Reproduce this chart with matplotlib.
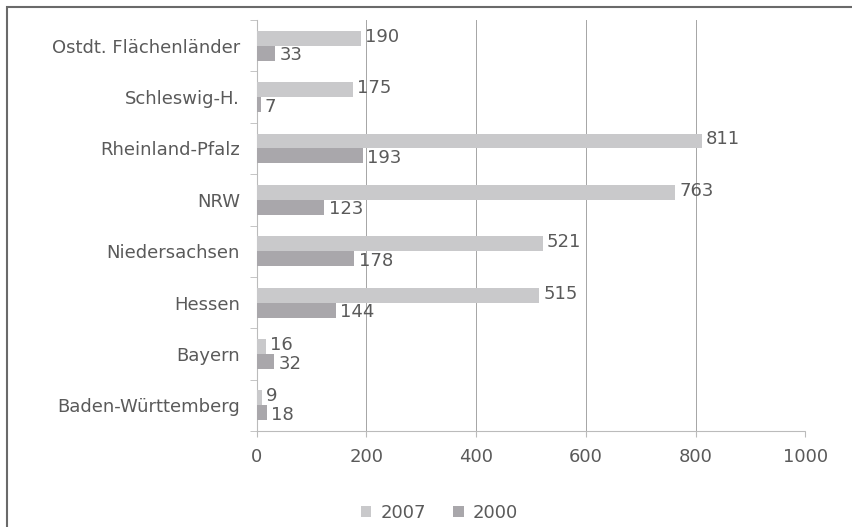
import matplotlib
matplotlib.use("Agg")
import matplotlib.pyplot as plt
from matplotlib.patches import Rectangle
import numpy as np

plt.rcParams['font.family'] = ['DejaVu Sans']

categories = ["Baden-Württemberg", "Bayern", "Hessen", "Niedersachsen",
              "NRW", "Rheinland-Pfalz", "Schleswig-H.", "Ostdt. Flächenländer"]
values_2007 = [9, 16, 515, 521, 763, 811, 175, 190]
values_2000 = [18, 32, 144, 178, 123, 193, 7, 33]
xticks = [0, 200, 400, 600, 800, 1000]

c2007 = "#c9c9cb"
c2000 = "#a9a7ab"
txt = "#5a5a5a"
fs = 13

fig = plt.figure(figsize=(8.53, 5.27), dpi=100)
fig.patches.append(Rectangle((0.008, -0.01), 0.995, 0.997, transform=fig.transFigure,
                             fill=False, edgecolor="#6a6a6a", linewidth=1.5))
ax = fig.add_axes([0.301, 0.182, 0.643, 0.78])

y = np.arange(len(categories))
h = 0.29
b1 = ax.barh(y + h / 2, values_2007, height=h, color=c2007, label="2007", zorder=3)
b2 = ax.barh(y - h / 2, values_2000, height=h, color=c2000, label="2000", zorder=3)

for yi, v in zip(y, values_2007):
    ax.text(v + 8, yi + h / 2 + 0.03, str(v), va="center", ha="left", fontsize=fs, color=txt, zorder=4)
for yi, v in zip(y, values_2000):
    ax.text(v + 8, yi - h / 2 - 0.04, str(v), va="center", ha="left", fontsize=fs, color=txt, zorder=4)

ax.set_xlim(0, 1000)
ax.set_ylim(-0.5, len(categories) - 0.5)
ax.set_xticks(xticks)
ax.set_xticklabels([str(t) for t in xticks], fontsize=fs, color=txt)
ax.set_yticks(y)
ax.set_yticklabels(categories, fontsize=fs, color=txt)
ax.tick_params(axis="y", length=0, pad=12)
ax.tick_params(axis="x", length=4, color="#bbbbbb", pad=8)
ax.set_yticks(np.arange(-0.5, len(categories), 1.0), minor=True)
ax.tick_params(axis="y", which="minor", length=5, color="#bbbbbb")
ax.grid(axis="x", color="#a5a5a5", linewidth=0.7, zorder=0)
for s in ["top", "right"]:
    ax.spines[s].set_visible(False)
ax.spines["left"].set_color("#bbbbbb")
ax.spines["bottom"].set_color("#bbbbbb")
ax.spines["bottom"].set_linestyle((0, (1, 1)))

fig.legend(handles=[b1, b2], labels=["2007", "2000"], loc="center", bbox_to_anchor=(0.515, 0.027),
           ncol=2, frameon=False, fontsize=fs, labelcolor=txt, handlelength=0.6, handleheight=0.6,
           handletextpad=0.5, columnspacing=1.5)

fig.savefig("out.png", dpi=100)
